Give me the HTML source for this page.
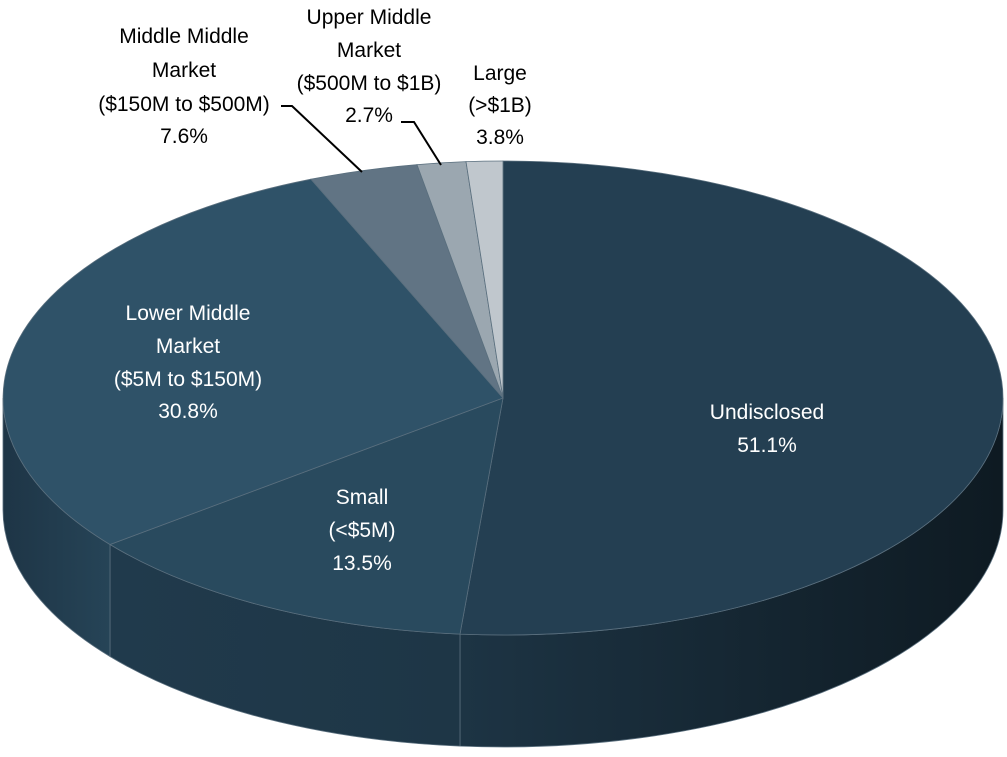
<!DOCTYPE html>
<html><head><style>
html,body{margin:0;padding:0;background:#fff;}
svg text{font-family:"Liberation Sans",sans-serif;font-size:21px;}
</style></head><body>
<svg width="1007" height="752" viewBox="0 0 1007 752" xmlns="http://www.w3.org/2000/svg">
<defs>
<linearGradient id="g1" x1="0" x2="1" y1="0" y2="0">
<stop offset="0" stop-color="#1d3444"/><stop offset="1" stop-color="#0e1a22"/></linearGradient>
<linearGradient id="g2" x1="0" x2="1" y1="0" y2="0">
<stop offset="0" stop-color="#203a4c"/><stop offset="1" stop-color="#1e3646"/></linearGradient>
<linearGradient id="g3" x1="0" x2="1" y1="0" y2="0">
<stop offset="0" stop-color="#1e3546"/><stop offset="1" stop-color="#264457"/></linearGradient>
</defs>
<g stroke="#5a6f7e" stroke-width="0.8">
<path d="M1003,398 A500,237 0 0 1 460,634.1 L460,746.1 A500,237 0 0 0 1003,510 Z" fill="url(#g1)"/>
<path d="M460,634.1 A500,237 0 0 1 110,544.5 L110,656.5 A500,237 0 0 0 460,746.1 Z" fill="url(#g2)"/>
<path d="M110,544.5 A500,237 0 0 1 3,398 L3,510 A500,237 0 0 0 110,656.5 Z" fill="url(#g3)"/>
<path d="M503,398 L503,161 A500,237 0 0 1 1003,398 A500,237 0 0 1 460,634.1 Z" fill="#243f52"/>
<path d="M503,398 L460,634.1 A500,237 0 0 1 110,544.5 Z" fill="#294a5e"/>
<path d="M503,398 L110,544.5 A500,237 0 0 1 311,179.2 Z" fill="#2f5268"/>
<path d="M503,398 L311,179.2 A500,237 0 0 1 417,164.6 Z" fill="#617484"/>
<path d="M503,398 L417,164.6 A500,237 0 0 1 466,161.6 Z" fill="#9ba7b0"/>
<path d="M503,398 L466,161.6 A500,237 0 0 1 503,161 Z" fill="#c0c7cd"/>
</g>
<g fill="none" stroke="#000" stroke-width="2">
<polyline points="281,106 292,106 362,172"/>
<polyline points="401,122 414,122 441,165"/>
</g>
<g text-anchor="middle" fill="#000">
<text x="184" y="43">Middle Middle</text>
<text x="184" y="77">Market</text>
<text x="184" y="111">($150M to $500M)</text>
<text x="184" y="143">7.6%</text>
<text x="369" y="24">Upper Middle</text>
<text x="369" y="57">Market</text>
<text x="369" y="90">($500M to $1B)</text>
<text x="369" y="122">2.7%</text>
<text x="500" y="80">Large</text>
<text x="500" y="112">(&gt;$1B)</text>
<text x="500" y="144">3.8%</text>
</g>
<g text-anchor="middle" fill="#fff">
<text x="188" y="320">Lower Middle</text>
<text x="188" y="353">Market</text>
<text x="188" y="386">($5M to $150M)</text>
<text x="188" y="418">30.8%</text>
<text x="362" y="504">Small</text>
<text x="362" y="537">(&lt;$5M)</text>
<text x="362" y="570">13.5%</text>
<text x="767" y="419">Undisclosed</text>
<text x="767" y="452">51.1%</text>
</g>
</svg>
</body></html>
